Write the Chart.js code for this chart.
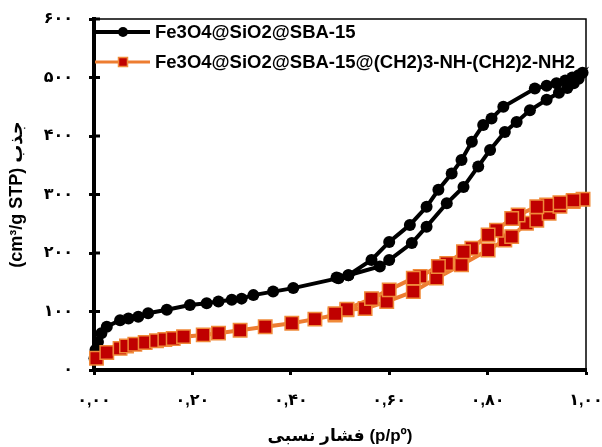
<!DOCTYPE html>
<html>
<head>
<meta charset="utf-8">
<script src="https://cdn.jsdelivr.net/npm/chart.js@4"></script>
<style>
  body { margin: 0; background: #fff; }
</style>
</head>
<body>
<canvas id="isoChart" width="602" height="447"></canvas>
<script>
// N2 isotherms: each list is the adsorption branch followed by the desorption branch

const seriesNames = ['Fe3O4@SiO2@SBA-15', 'Fe3O4@SiO2@SBA-15@(CH2)3-NH-(CH2)2-NH2'];

const pressureBare = [
    0.001, 0.003, 0.008, 0.015, 0.026, 0.053, 0.070, 0.090, 0.110, 0.148,
    0.195, 0.229, 0.253, 0.280, 0.300, 0.324, 0.364, 0.405, 0.497, 0.517,
    0.581, 0.600, 0.646, 0.676, 0.717, 0.751, 0.781, 0.805, 0.835, 0.859,
    0.886, 0.920, 0.945, 0.962, 0.975, 0.985, 0.993,
    0.985, 0.972, 0.958, 0.940, 0.920, 0.896, 0.832, 0.808, 0.791, 0.768,
    0.747, 0.727, 0.700, 0.676, 0.642, 0.600, 0.564, 0.517, 0.493
];
const uptakeBare = [
    20, 34, 48, 63, 74, 85, 88, 91, 97, 103,
    111, 114, 117, 120, 122, 128, 134, 140, 157, 162,
    177, 188, 217, 245, 285, 313, 348, 376, 407, 424,
    444, 462, 474, 482, 490, 498, 508,
    504, 500, 495, 490, 486, 481, 450, 430, 419, 390,
    359, 336, 308, 279, 248, 219, 188, 162, 158
];

const pressureAmine = [
    0.005, 0.026, 0.053, 0.066, 0.083, 0.104, 0.127, 0.144, 0.161, 0.182,
    0.222, 0.253, 0.297, 0.348, 0.402, 0.449, 0.490, 0.514, 0.551, 0.595,
    0.649, 0.696, 0.747, 0.801, 0.835, 0.849, 0.879, 0.900, 0.925, 0.947,
    0.974, 0.994,
    0.974, 0.947, 0.920, 0.900, 0.862, 0.849, 0.818, 0.801, 0.768, 0.751,
    0.717, 0.700, 0.663, 0.649, 0.600, 0.564, 0.514, 0.490
];
const uptakeAmine = [
    20, 30, 37, 41, 44, 47, 50, 52, 54, 57,
    60, 63, 68, 74, 80, 87, 94, 103, 105, 117,
    134, 157, 180, 205, 222, 228, 251, 256, 268, 280,
    288, 292,
    290, 286, 282, 279, 265, 259, 239, 231, 208, 202,
    182, 177, 160, 157, 137, 122, 104, 96
];

const xTickLabels = ['۰,۰۰', '۰,۲۰', '۰,۴۰', '۰,۶۰', '۰,۸۰', '۱,۰۰'];
const yTickLabels = ['۰', '۱۰۰', '۲۰۰', '۳۰۰', '۴۰۰', '۵۰۰', '۶۰۰'];

const fontStack = 'Arial, "Liberation Sans", "DejaVu Sans", sans-serif';
Chart.defaults.font.family = fontStack;
Chart.defaults.color = '#000';

const toPoints = (xs, ys) => xs.map((x, i) => ({ x: x, y: ys[i] }));

// thin frame on the top and right of the plot, plus the short inner y ticks
const plotFrame = {
    id: 'plotFrame',
    beforeDatasetsDraw(chart) {
        const { ctx, chartArea } = chart;
        const yScale = chart.scales.y;
        ctx.save();
        ctx.strokeStyle = '#000';
        ctx.lineWidth = 1.5;
        ctx.beginPath();
        ctx.moveTo(chartArea.left, chartArea.top);
        ctx.lineTo(chartArea.right, chartArea.top);
        ctx.lineTo(chartArea.right, chartArea.bottom);
        ctx.stroke();

        ctx.lineWidth = 3;
        yScale.ticks.forEach(t => {
            const py = yScale.getPixelForValue(t.value);
            ctx.beginPath();
            ctx.moveTo(chartArea.left, py);
            ctx.lineTo(chartArea.left + 6, py);
            ctx.stroke();
        });
        ctx.restore();
    }
};

// legend sits inside the plot, top left
const insideLegend = {
    id: 'insideLegend',
    afterDatasetsDraw(chart) {
        const { ctx, chartArea } = chart;
        const x0 = chartArea.left + 1;
        ctx.save();
        seriesNames.forEach((name, i) => {
            const ds = chart.data.datasets[i];
            const y = chartArea.top + 13 + i * 30;
            ctx.strokeStyle = ds.borderColor;
            ctx.lineWidth = i === 0 ? 4 : 3;
            ctx.beginPath();
            ctx.moveTo(x0, y);
            ctx.lineTo(x0 + 55, y);
            ctx.stroke();

            ctx.fillStyle = ds.pointBackgroundColor;
            if (ds.pointStyle === 'circle') {
                ctx.beginPath();
                ctx.arc(x0 + 28, y, 5, 0, Math.PI * 2);
                ctx.fill();
            } else {
                ctx.strokeStyle = ds.pointBorderColor;
                ctx.lineWidth = 1.5;
                ctx.fillRect(x0 + 23.5, y - 4.5, 9, 9);
                ctx.strokeRect(x0 + 23.5, y - 4.5, 9, 9);
            }

            ctx.fillStyle = '#000';
            ctx.font = 'bold 18.5px ' + fontStack;
            ctx.textBaseline = 'middle';
            ctx.fillText(name, x0 + 60, y + 1);
        });
        ctx.restore();
    }
};

const isoChart = new Chart(document.getElementById('isoChart'), {
    type: 'scatter',
    data: {
        datasets: [
            {
                label: seriesNames[0],
                data: toPoints(pressureBare, uptakeBare),
                showLine: true,
                borderColor: '#000',
                borderWidth: 4,
                pointStyle: 'circle',
                pointRadius: 6,
                pointBackgroundColor: '#000',
                pointBorderColor: '#000',
                pointBorderWidth: 0,
                clip: false,
                order: 2,
            },
            {
                label: seriesNames[1],
                data: toPoints(pressureAmine, uptakeAmine),
                showLine: true,
                borderColor: '#ED7D31',
                borderWidth: 4,
                pointStyle: 'rect',
                pointRadius: 9.5,
                pointBackgroundColor: '#C00000',
                pointBorderColor: '#F08A3A',
                pointBorderWidth: 1.5,
                clip: false,
                order: 1,
            },
        ],
    },
    options: {
        responsive: false,
        animation: false,
        events: [],
        layout: { padding: { top: 19, right: 16, left: 0, bottom: 0 } },
        plugins: {
            legend: { display: false },
            tooltip: { enabled: false },
        },
        scales: {
            x: {
                type: 'linear',
                min: 0,
                max: 1,
                afterFit: scale => {
                    scale.height = 77;
                    scale.paddingLeft = 0;
                    scale.paddingRight = 0;
                },
                ticks: {
                    stepSize: 0.2,
                    maxRotation: 0,
                    padding: 16,
                    font: { size: 16, weight: 'bold' },
                    callback: value => xTickLabels[Math.round(value / 0.2)],
                },
                grid: {
                    drawOnChartArea: false,
                    tickLength: 5,
                    tickWidth: 3,
                    tickColor: '#000',
                },
                border: { color: '#000', width: 4 },
                title: {
                    display: true,
                    text: 'فشار نسبی (p/pº)',
                    font: { size: 17, weight: 'bold' },
                    padding: { top: 8, bottom: 0 },
                },
            },
            y: {
                min: 0,
                max: 600,
                afterFit: scale => {
                    scale.width = 94;
                    scale.paddingTop = 0;
                    scale.paddingBottom = 0;
                },
                ticks: {
                    stepSize: 100,
                    padding: 16,
                    font: { size: 16, weight: 'bold' },
                    callback: value => yTickLabels[Math.round(value / 100)],
                },
                grid: {
                    drawOnChartArea: false,
                    tickLength: 5,
                    tickWidth: 3,
                    tickColor: '#000',
                },
                border: { color: '#000', width: 4 },
                title: {
                    display: true,
                    text: '(cm³/g STP) جذب',
                    font: { size: 18, weight: 'bold' },
                    padding: { top: 6, bottom: 0 },
                },
            },
        },
    },
    plugins: [plotFrame, insideLegend],
});
</script>
</body>
</html>
